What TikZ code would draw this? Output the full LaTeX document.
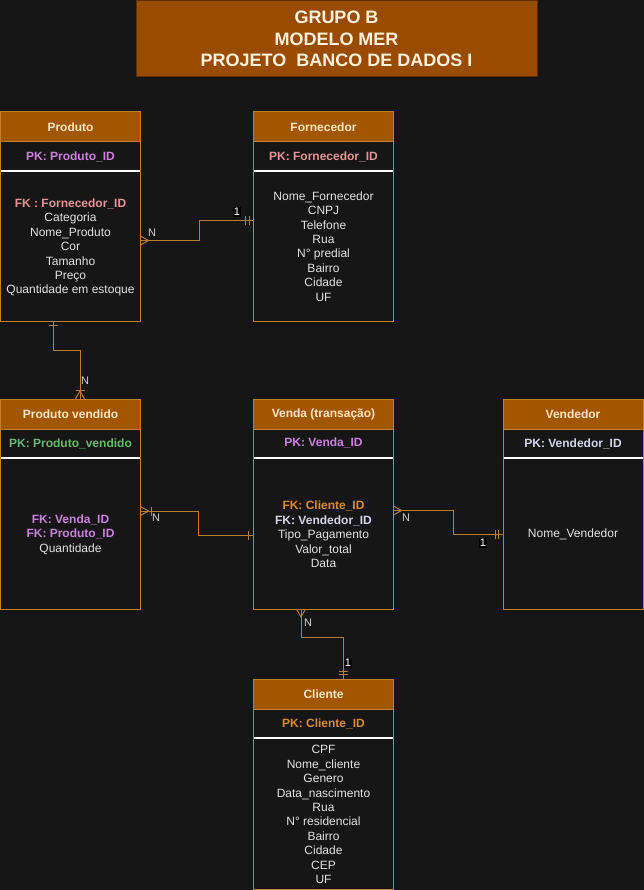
\documentclass[tikz,border=0pt]{standalone}
\usepackage{fontspec}
\setmainfont{Liberation Sans}
\usepackage{xcolor}
\definecolor{bgDark}{HTML}{161616}
\definecolor{boxLine}{HTML}{C47F2E}
\definecolor{relLine}{HTML}{BE7A2C}
\definecolor{headFill}{HTML}{A35600}
\definecolor{headText}{HTML}{FFE5C8}
\definecolor{titleFill}{HTML}{994C00}
\definecolor{titleLine}{HTML}{5A2E00}
\definecolor{titleText}{HTML}{FFF2E0}
\definecolor{bodyText}{HTML}{E2E2E2}
\definecolor{labelGray}{HTML}{D0D0D0}
\definecolor{pkViolet}{HTML}{CC80DD}
\definecolor{fkRose}{HTML}{E69494}
\definecolor{pkGreen}{HTML}{66BB6A}
\definecolor{keyOrange}{HTML}{DD8A2E}
\definecolor{keyLavender}{HTML}{D4D4EC}
\usepackage{tikz}
\usetikzlibrary{decorations.markings}

\tikzset{
  entity/.style={draw=boxLine, line width=1pt, fill=bgDark, anchor=north west,
    inner sep=0pt, outer sep=0pt, minimum width=140pt},
  header/.style={draw=boxLine, line width=1pt, fill=headFill, anchor=north west,
    inner sep=0pt, outer sep=0pt, minimum width=140pt, minimum height=30pt,
    text=headText, font=\bfseries\fontsize{12}{14.4}\selectfont},
  titlebox/.style={draw=titleLine, line width=1pt, fill=titleFill, align=center,
    minimum width=401pt, minimum height=76pt, text=titleText,
    font=\bfseries\fontsize{18}{21.6}\selectfont},
  keytext/.style={font=\bfseries\fontsize{12}{14.4}\selectfont},
  attrs/.style={align=center, text=bodyText, font=\fontsize{12}{14.4}\selectfont},
  sepline/.style={white, line width=1.2pt},
  rel/.style={draw=relLine, line width=1pt},
  erbar/.style={postaction={decorate, decoration={markings,
    mark=at position #1 with {\draw[relLine, line width=1pt] (0,-4.5pt) -- (0,4.5pt);}}}},
  ercrowStart/.style={postaction={decorate, decoration={markings,
    mark=at position 8pt with {\draw[relLine, line width=1pt] (-8pt,-4.5pt) -- (0,0) -- (-8pt,4.5pt);}}}},
  ercrowEnd/.style={postaction={decorate, decoration={markings,
    mark=at position -8pt with {\draw[relLine, line width=1pt] (8pt,-4.5pt) -- (0,0) -- (8pt,4.5pt);}}}},
  cardN/.style={text=labelGray, font=\fontsize{11}{13}\selectfont, inner sep=1pt},
  cardOne/.style={text=white, fill=black, font=\fontsize{11}{13}\selectfont, inner sep=1pt}
}

\begin{document}
\begin{tikzpicture}[x=1pt, y=-1pt]
  \fill[bgDark] (0,0) rectangle (644,890);
  \useasboundingbox (0,0) rectangle (644,890);

  % title
  \node[titlebox] (titulo) at (336.5,39) {GRUPO B\\MODELO MER\\PROJETO\ \ BANCO DE DADOS I};

  % entity boxes, headers and key separators
  \foreach \nm/\x/\y/\h/\ttl in {produto/0.5/112/209/Produto,
      fornecedor/253.5/112/209/Fornecedor,
      prodvend/0.5/399/210/Produto vendido,
      venda/253.5/399/210/Venda (transação),
      vendedor/503/399/210/Vendedor,
      cliente/253.5/679/210/Cliente} {
    \node[entity, minimum height=\h pt] (\nm) at (\x,\y) {};
    \node[header] (\nm H) at (\nm.north west) {\ttl};
    \draw[sepline] ({\x+0.5},{\y+59}) -- ({\x+139.5},{\y+59});
  }

  % primary keys
  \node[keytext, text=pkViolet] (produtoPK) at (produto.north |- 0,156.5) {PK: Produto\_ID};
  \node[keytext, text=fkRose] (fornecedorPK) at (fornecedor.north |- 0,156.5) {PK: Fornecedor\_ID};
  \node[keytext, text=pkGreen] (prodvendPK) at (prodvend.north |- 0,443.5) {PK: Produto\_vendido};
  \node[keytext, text=pkViolet] (vendaPK) at (venda.north |- 0,443) {PK: Venda\_ID};
  \node[keytext, text=keyLavender] (vendedorPK) at (vendedor.north |- 0,443.5) {PK: Vendedor\_ID};
  \node[keytext, text=keyOrange] (clientePK) at (cliente.north |- 0,723.5) {PK: Cliente\_ID};

  % attributes
  \node[attrs] (produtoAt) at (produto.north |- 0,247.5)
    {\textcolor{fkRose}{\bfseries FK : Fornecedor\_ID}\\Categoria\\Nome\_Produto\\Cor\\Tamanho\\Preço\\Quantidade em estoque};
  \node[attrs] (fornecedorAt) at (fornecedor.north |- 0,246.5)
    {Nome\_Fornecedor\\CNPJ\\Telefone\\Rua\\N° predial\\Bairro\\Cidade\\UF};
  \node[attrs] (prodvendAt) at (prodvend.north |- 0,534.5)
    {\textcolor{pkViolet}{\bfseries FK: Venda\_ID}\\\textcolor{pkViolet}{\bfseries FK: Produto\_ID}\\Quantidade};
  \node[attrs] (vendaAt) at (venda.north |- 0,534.5)
    {\textcolor{keyOrange}{\bfseries FK: Cliente\_ID}\\\textcolor{keyLavender}{\bfseries FK: Vendedor\_ID}\\Tipo\_Pagamento\\Valor\_total\\Data};
  \node[attrs] (vendedorAt) at (vendedor.north |- 0,534) {Nome\_Vendedor};
  \node[attrs] (clienteAt) at (cliente.north |- 0,814.5)
    {CPF\\Nome\_cliente\\Genero\\Data\_nascimento\\Rua\\N° residencial\\Bairro\\Cidade\\CEP\\UF};

  % relationships
  \draw[rel, ercrowStart, erbar=-8pt, erbar=-4.5pt]
    (produto.east |- 0,240.5) -- ++(58.5,0) |- (fornecedor.west |- 0,221);
  \draw[rel, erbar=4pt, erbar=-9pt, ercrowEnd]
    (produto.south -| 53,0) -- ++(0,29) -| (prodvend.north -| 80,0);
  \draw[rel, ercrowStart, erbar=10.5pt, erbar=-5pt]
    (prodvend.east |- 0,511) -- ++(57.5,0) |- (venda.west |- 0,535);
  \draw[rel, ercrowStart, erbar=-8pt, erbar=-4.5pt]
    (venda.east |- 0,510.5) -- ++(59.5,0) |- (vendedor.west |- 0,534);
  \draw[rel, ercrowStart, erbar=-8pt, erbar=-4.5pt]
    (venda.south -| 301,0) -- ++(0,28) -| (cliente.north -| 343,0);

  % cardinalities
  \node[cardN] (nProduto) at (152,233) {N};
  \node[cardOne] (umFornecedor) at (237,212) {1};
  \node[cardN] (nProdvendTop) at (85,381) {N};
  \node[cardN] (nProdvend) at (156,518) {N};
  \node[cardN] (nVenda) at (406,518) {N};
  \node[cardOne] (umVendedor) at (483,543) {1};
  \node[cardN] (nVendaBaixo) at (308,623) {N};
  \node[cardOne] (umCliente) at (348,663) {1};
\end{tikzpicture}
\end{document}
